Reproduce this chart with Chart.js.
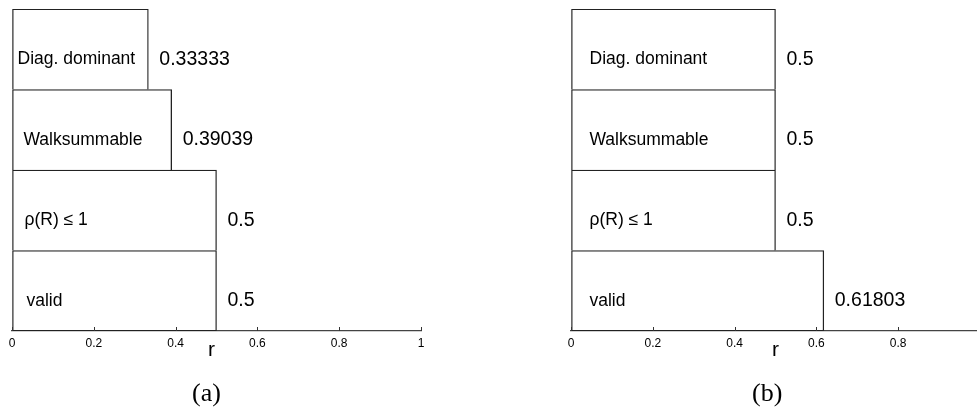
<!DOCTYPE html>
<html lang="en">
<head>
    <meta charset="UTF-8">
    <title>Bound on r</title>
    <style>
        html, body { margin: 0; padding: 0; background: #fff; overflow: hidden; }
        body { width: 977px; height: 408px; position: relative; }
        canvas { position: absolute; top: 0; }
        #chartA { left: 0; }
        #chartB { left: 560px; }
        .caption {
            position: absolute;
            font-family: "Liberation Serif", "Times New Roman", serif;
            font-size: 26px;
            line-height: 26px;
            color: #000;
        }
    </style>
</head>
<body>

    <canvas id="chartA" width="440" height="408"></canvas>
    <canvas id="chartB" width="430" height="408"></canvas>
    <div class="caption" id="capA" style="left:192px; top:380px;">(a)</div>
    <div class="caption" id="capB" style="left:752px; top:380px;">(b)</div>

    <script src="https://cdn.jsdelivr.net/npm/chart.js@4/dist/chart.umd.min.js"></script>

    <script>
        // data
        var categories = ['Diag. dominant', 'Walksummable', 'ρ(R) ≤ 1', 'valid'];
        var valuesA = [0.33333, 0.39039, 0.5, 0.5];
        var valuesB = [0.5, 0.5, 0.5, 0.61803];
        var tickLabels = ['0', '0.2', '0.4', '0.6', '0.8', '1'];
        var axisTitle = 'r';

        var sans = '"Liberation Sans", Arial, sans-serif';

        // writes the category name inside each bar and the value past its end,
        // plus the small inward tick marks and the axis title
        var barText = {
            id: 'barText',
            afterDatasetsDraw: function (chart, args, opts) {
                var ctx = chart.ctx;
                var meta = chart.getDatasetMeta(0);
                var values = chart.data.datasets[0].data;
                var xs = chart.scales.x;
                ctx.save();
                ctx.fillStyle = '#000';
                ctx.textBaseline = 'middle';
                ctx.textAlign = 'left';
                meta.data.forEach(function (bar, i) {
                    var y = bar.y + opts.dy;
                    ctx.font = '17.5px ' + sans;
                    ctx.fillText(chart.data.labels[i], bar.base + opts.nameOffset[i], y);
                    ctx.font = '19.5px ' + sans;
                    ctx.fillText(String(values[i]), bar.x + 11, y);
                });

                // ticks point up into the plot
                ctx.strokeStyle = '#333';
                ctx.lineWidth = 1;
                xs.ticks.forEach(function (t) {
                    var px = Math.round(xs.getPixelForValue(t.value)) + 0.5;
                    ctx.beginPath();
                    ctx.moveTo(px, xs.top);
                    ctx.lineTo(px, xs.top - 4);
                    ctx.stroke();
                });

                ctx.font = '21px ' + sans;
                ctx.textAlign = 'center';
                ctx.fillText(axisTitle, (xs.left + xs.right) / 2 + opts.titleShift, xs.top + 19);
                ctx.restore();
            }
        };

        function makeChart(id, values, pad, nameOffset, titleShift) {
            var ctx = document.getElementById(id).getContext('2d');
            var last = values.length - 1;
            return new Chart(ctx, {
                type: 'bar',
                data: {
                    labels: categories,
                    datasets: [{
                        data: values,
                        backgroundColor: '#fff',
                        borderColor: '#222',
                        borderSkipped: false,
                        borderWidth: function (c) {
                            return { top: 1.3, left: 1.3, right: 1.3, bottom: c.dataIndex === last ? 1.3 : 0 };
                        },
                        barPercentage: 1,
                        categoryPercentage: 1
                    }]
                },
                options: {
                    indexAxis: 'y',
                    responsive: false,
                    animation: false,
                    layout: { padding: { left: pad.left, right: pad.right, top: 9, bottom: 47 } },
                    plugins: {
                        legend: { display: false },
                        tooltip: { enabled: false },
                        barText: { dy: 10, nameOffset: nameOffset, titleShift: titleShift }
                    },
                    scales: {
                        y: { display: false },
                        x: {
                            min: 0,
                            max: 1,
                            afterFit: function (scale) { scale.height = 30; },
                            grid: { drawOnChartArea: false, drawTicks: false },
                            border: { display: true, color: '#444', width: 1.3 },
                            ticks: {
                                stepSize: 0.2,
                                padding: 5,
                                color: '#000',
                                font: { family: sans, size: 12 },
                                maxRotation: 0,
                                callback: function (v, i) { return tickLabels[i]; }
                            }
                        }
                    }
                },
                plugins: [barText]
            });
        }

        makeChart('chartA', valuesA, { left: 12, right: 19 }, [5, 11, 12, 14], -5);
        makeChart('chartB', valuesB, { left: 11, right: 10 }, [18, 18, 18, 18], 0);
    </script>

</body>
</html>
